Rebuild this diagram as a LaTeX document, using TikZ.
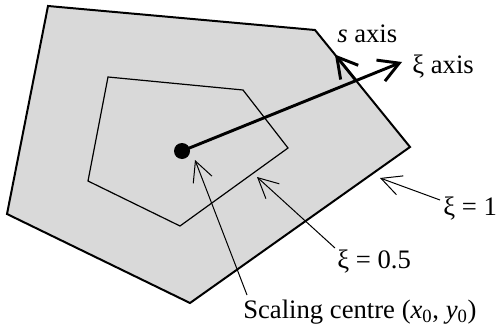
\documentclass[tikz,border=0pt]{standalone}
\usepackage{fontspec}
\setmainfont{Liberation Serif}
\usepackage{tikz}
\usepackage{xcolor}
\usetikzlibrary{arrows.meta,positioning,calc}
\definecolor{shade}{HTML}{D9D9D9}
\definecolor{ink}{HTML}{000000}
\tikzset{
  outer/.style={draw=ink, fill=shade, line width=1.5pt, line join=miter},
  inner/.style={draw=ink, line width=0.9pt},
  axis/.style={draw=ink, line width=2.2pt,
               -{Straight Barb[length=15pt,width=17pt]}},
  leader/.style={draw=ink, line width=0.75pt,
                 -{Straight Barb[length=15pt,width=15pt]}},
  lbl/.style={font=\fontsize{20}{24}\selectfont, inner sep=0pt},
  centre/.style={circle, fill=ink, minimum size=12pt, inner sep=0pt}
}

\begin{document}
\begin{tikzpicture}[x=0.75pt,y=-0.75pt]
  \useasboundingbox (0,0) rectangle (498,335);

  % boundary xi = 1
  \coordinate (o1) at (48,6);
  \coordinate (o2) at (315,30);
  \coordinate (o3) at (410,147);
  \coordinate (o4) at (190,303);
  \coordinate (o5) at (7,214);
  \draw[outer] (o1) -- (o2) -- (o3) -- (o4) -- (o5) -- cycle;

  % scaled boundary xi = 0.5
  \draw[inner] (108,77) -- (243,90) -- (288,148) -- (180,226) -- (88,181) -- cycle;

  \node[centre] (sc) at (182,151) {};

  % local axes
  \coordinate (xitip) at (402,62);
  \draw[axis] (sc.center) -- (xitip);
  \draw[axis] ($(o2)!0.43!(o3)$) -- ($(o2)!0.21!(o3)$);

  \node[lbl, anchor=base west] (sax) at (337,42) {\textit{s} axis};
  \node[lbl, anchor=base west] (xiax) at (412,73) {ξ axis};

  % labels and leaders
  \node[lbl, anchor=base west] (xi1) at (443,215) {ξ = 1};
  \node[lbl, anchor=base west] (xi05) at (337,268) {ξ = 0.5};
  \node[lbl, anchor=base west] (sclbl) at (243,318)
    {Scaling centre (\textit{x}\textsubscript{0}, \textit{y}\textsubscript{0})};

  \coordinate (tip1) at (380,178);
  \coordinate (tip05) at (257,177);
  \coordinate (tipc) at (195,160);
  \draw[leader] ([shift={(-3,-15)}]xi1.base west) -- (tip1);
  \draw[leader] ([shift={(-2,-20)}]xi05.base west) -- (tip05);
  \draw[leader] ([shift={(4,-23)}]sclbl.base west) -- (tipc);
\end{tikzpicture}
\end{document}
